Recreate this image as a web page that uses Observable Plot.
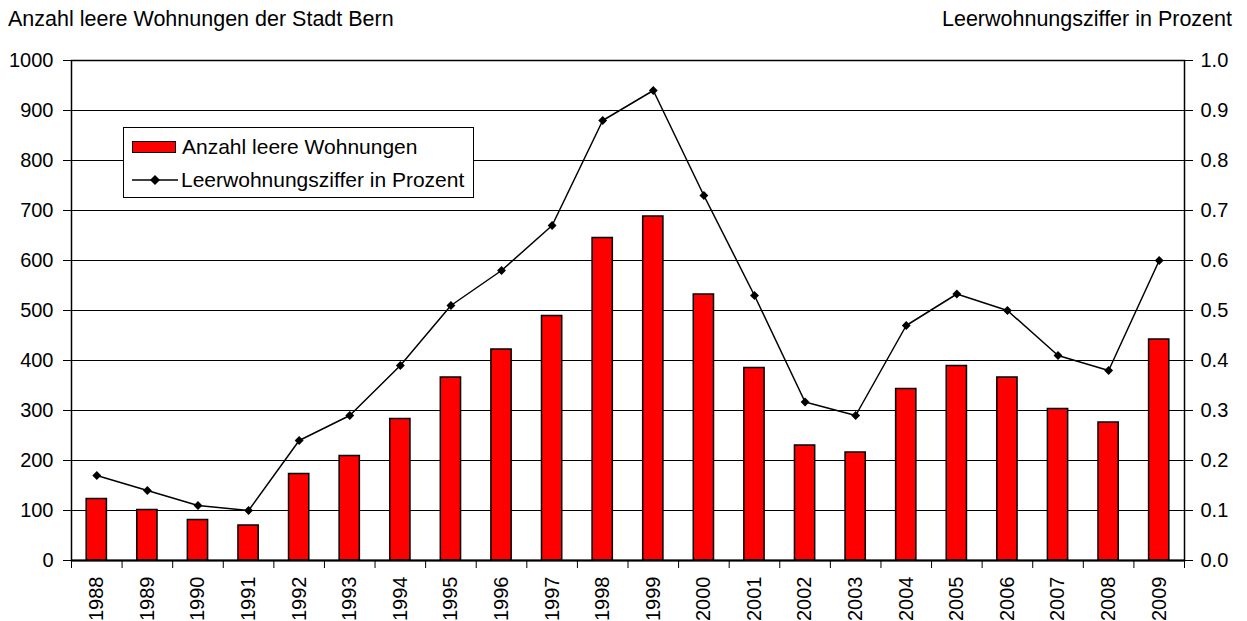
<!DOCTYPE html>
<html>
<head>
<meta charset="utf-8">
<script src="https://cdn.jsdelivr.net/npm/d3@7"></script>
<script src="https://cdn.jsdelivr.net/npm/@observablehq/plot@0.6"></script>
<style>
  html, body { margin: 0; padding: 0; background: #fff; }
  #wrap { position: relative; width: 1247px; height: 621px; font-family: "Liberation Sans", Arial, sans-serif; color: #000; }
  .title { position: absolute; top: 7px; font-size: 21.5px; white-space: nowrap; }
  #legend { position: absolute; left: 123px; top: 127px; width: 349px; height: 69px; border: 1px solid #000; background: #fff; font-size: 21px; }
  .lrow { position: absolute; left: 8px; height: 30px; display: flex; align-items: center; white-space: nowrap; }
  .sw { width: 42px; height: 10px; background: #f00; border: 1px solid #000; margin-right: 6px; }
</style>
</head>
<body>
<div id="wrap">
  <div class="title" style="left:8px">Anzahl leere Wohnungen der Stadt Bern</div>
  <div class="title" style="right:15px">Leerwohnungsziffer in Prozent</div>
  <div id="chart"></div>
  <div id="legend">
    <div class="lrow" style="top:4px"><div class="sw"></div><span>Anzahl leere Wohnungen</span></div>
    <div class="lrow" style="top:37px"><svg width="49" height="14" style="margin-right:0px"><line x1="0" y1="7" x2="46" y2="7" stroke="#000" stroke-width="1.5"/><path d="M23,2 L28,7 L23,12 L18,7 Z" fill="#000"/></svg><span>Leerwohnungsziffer in Prozent</span></div>
  </div>
</div>
<script>
const years = [1988,1989,1990,1991,1992,1993,1994,1995,1996,1997,1998,1999,2000,2001,2002,2003,2004,2005,2006,2007,2008,2009];
const leereWohnungen = [123,101,81,70,173,209,283,366,422,489,645,688,532,385,230,216,343,389,366,303,276,442];
const leerwohnungsziffer = [0.17,0.14,0.11,0.10,0.24,0.29,0.39,0.51,0.58,0.67,0.88,0.94,0.73,0.53,0.317,0.29,0.47,0.533,0.50,0.41,0.38,0.60];
const yTicks = [0,100,200,300,400,500,600,700,800,900,1000];
const pctMax = 1.0;
const countMax = 1000;

const data = years.map((y, i) => ({year: y, count: leereWohnungen[i], pct: leerwohnungsziffer[i]}));
const boundaries = years.map(y => y - 0.5).concat([years[years.length - 1] + 0.5]);

const chart = Plot.plot({
  width: 1247,
  height: 621,
  marginLeft: 71,
  marginRight: 63,
  marginTop: 60,
  marginBottom: 61,
  style: {fontFamily: "'Liberation Sans', Arial, sans-serif", fontSize: "20px", color: "#000", background: "#fff"},
  x: {type: "linear", domain: [years[0] - 0.5, years[years.length - 1] + 0.5]},
  y: {domain: [0, countMax]},
  marks: [
    Plot.gridY(yTicks, {stroke: "#000", strokeOpacity: 1, strokeWidth: 1}),
    Plot.rectY(data, {x1: d => d.year - 0.2, x2: d => d.year + 0.2, y: "count", fill: "#ff0000", stroke: "#000", strokeWidth: 1.5}),
    Plot.frame({stroke: "#000", strokeWidth: 1.5}),
    Plot.ruleY([0], {stroke: "#000", strokeWidth: 2}),
    Plot.line(data, {x: "year", y: d => d.pct / pctMax * countMax, stroke: "#000", strokeWidth: 1.5}),
    Plot.dot(data, {x: "year", y: d => d.pct / pctMax * countMax, symbol: "diamond2", r: 4, fill: "#000", stroke: "none"}),
    Plot.axisY({anchor: "left", ticks: yTicks, tickSize: 8, tickPadding: 10, tickFormat: d3.format("d"), label: null, fontSize: 20}),
    Plot.axisY({anchor: "right", ticks: yTicks, tickSize: 8, tickPadding: 8, tickFormat: d => (d / countMax * pctMax).toFixed(1), label: null, fontSize: 20}),
    Plot.axisX({ticks: boundaries, tickSize: 8, tickFormat: () => "", label: null, stroke: "#000"}),
    Plot.axisX({ticks: years, tickSize: 0, tickPadding: 16, tickRotate: -90, tickFormat: d3.format("d"), label: null, fontSize: 20})
  ]
});
document.getElementById("chart").appendChild(chart);
</script>
</body>
</html>
